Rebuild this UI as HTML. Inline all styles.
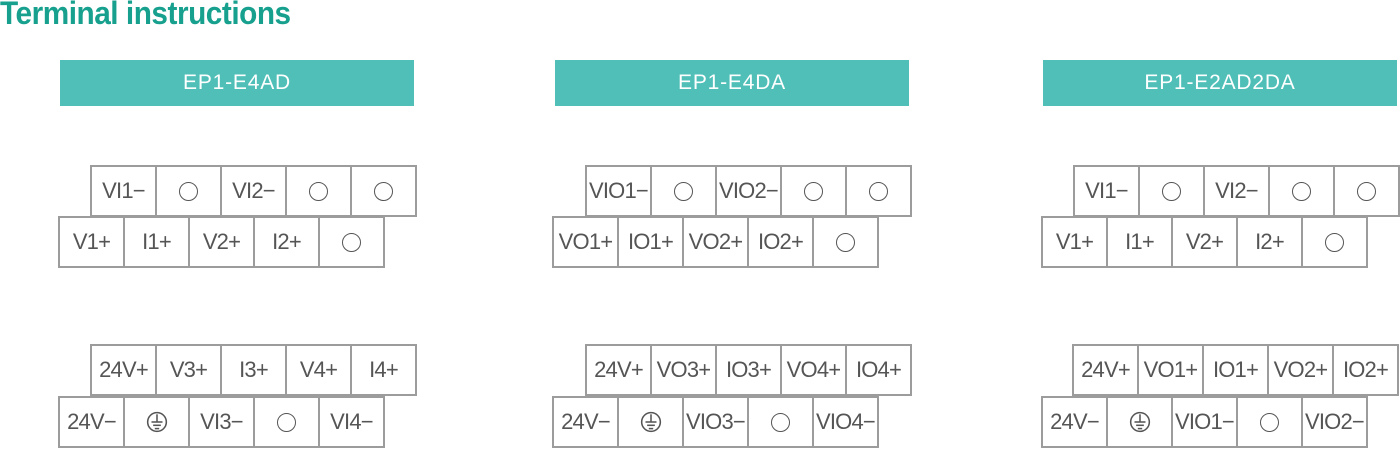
<!DOCTYPE html>
<html><head><meta charset="utf-8"><style>
body{margin:0;width:1400px;height:449px;background:#fff;position:relative;overflow:hidden;font-family:"Liberation Sans",sans-serif}
.title{position:absolute;left:0;top:-5px;font-size:32px;font-weight:bold;color:#16a08d;transform:scaleX(0.93);transform-origin:left top;letter-spacing:-0.5px;white-space:nowrap}
.hd{position:absolute;top:60px;width:354px;height:46px;background:#4fbfb8;color:#fff;font-size:21px;line-height:46px;text-align:center;letter-spacing:0.8px}
.row{position:absolute;display:flex;height:52px}
.c{box-sizing:border-box;width:67px;height:52px;border:2px solid #9c9c9c;margin-left:-2px;display:flex;align-items:center;justify-content:center;font-size:22px;color:#555;letter-spacing:-0.8px;white-space:nowrap;background:#fff}
.o{display:inline-block;width:17px;height:17px;border:1.6px solid #555;border-radius:50%}
</style></head><body>
<div class="title">Terminal instructions</div>

<div class="hd" style="left:60px">EP1-E4AD</div>
<div class="hd" style="left:555px">EP1-E4DA</div>
<div class="hd" style="left:1043px">EP1-E2AD2DA</div>

<!-- Block 1 -->
<div class="row" style="left:92px;top:165px"><div class="c">VI1−</div><div class="c"><span class="o"></span></div><div class="c">VI2−</div><div class="c"><span class="o"></span></div><div class="c"><span class="o"></span></div></div>
<div class="row" style="left:60px;top:216px"><div class="c">V1+</div><div class="c">I1+</div><div class="c">V2+</div><div class="c">I2+</div><div class="c"><span class="o"></span></div></div>
<div class="row" style="left:92px;top:344px"><div class="c">24V+</div><div class="c">V3+</div><div class="c">I3+</div><div class="c">V4+</div><div class="c">I4+</div></div>
<div class="row" style="left:60px;top:396px"><div class="c">24V−</div><div class="c"><svg width="22" height="22" viewBox="0 0 20 20"><circle cx="10" cy="10" r="8.5" fill="none" stroke="#555" stroke-width="1.4"/><line x1="10" y1="3" x2="10" y2="10" stroke="#555" stroke-width="1.4"/><line x1="5" y1="10" x2="15" y2="10" stroke="#555" stroke-width="1.4"/><line x1="6.5" y1="13" x2="13.5" y2="13" stroke="#555" stroke-width="1.4"/><line x1="8" y1="16" x2="12" y2="16" stroke="#555" stroke-width="1.4"/></svg></div><div class="c">VI3−</div><div class="c"><span class="o"></span></div><div class="c">VI4−</div></div>

<!-- Block 2 -->
<div class="row" style="left:587px;top:165px"><div class="c">VIO1−</div><div class="c"><span class="o"></span></div><div class="c">VIO2−</div><div class="c"><span class="o"></span></div><div class="c"><span class="o"></span></div></div>
<div class="row" style="left:554px;top:216px"><div class="c">VO1+</div><div class="c">IO1+</div><div class="c">VO2+</div><div class="c">IO2+</div><div class="c"><span class="o"></span></div></div>
<div class="row" style="left:587px;top:344px"><div class="c">24V+</div><div class="c">VO3+</div><div class="c">IO3+</div><div class="c">VO4+</div><div class="c">IO4+</div></div>
<div class="row" style="left:554px;top:396px"><div class="c">24V−</div><div class="c"><svg width="22" height="22" viewBox="0 0 20 20"><circle cx="10" cy="10" r="8.5" fill="none" stroke="#555" stroke-width="1.4"/><line x1="10" y1="3" x2="10" y2="10" stroke="#555" stroke-width="1.4"/><line x1="5" y1="10" x2="15" y2="10" stroke="#555" stroke-width="1.4"/><line x1="6.5" y1="13" x2="13.5" y2="13" stroke="#555" stroke-width="1.4"/><line x1="8" y1="16" x2="12" y2="16" stroke="#555" stroke-width="1.4"/></svg></div><div class="c">VIO3−</div><div class="c"><span class="o"></span></div><div class="c">VIO4−</div></div>

<!-- Block 3 -->
<div class="row" style="left:1075px;top:165px"><div class="c">VI1−</div><div class="c"><span class="o"></span></div><div class="c">VI2−</div><div class="c"><span class="o"></span></div><div class="c"><span class="o"></span></div></div>
<div class="row" style="left:1043px;top:216px"><div class="c">V1+</div><div class="c">I1+</div><div class="c">V2+</div><div class="c">I2+</div><div class="c"><span class="o"></span></div></div>
<div class="row" style="left:1074px;top:344px"><div class="c">24V+</div><div class="c">VO1+</div><div class="c">IO1+</div><div class="c">VO2+</div><div class="c">IO2+</div></div>
<div class="row" style="left:1043px;top:396px"><div class="c">24V−</div><div class="c"><svg width="22" height="22" viewBox="0 0 20 20"><circle cx="10" cy="10" r="8.5" fill="none" stroke="#555" stroke-width="1.4"/><line x1="10" y1="3" x2="10" y2="10" stroke="#555" stroke-width="1.4"/><line x1="5" y1="10" x2="15" y2="10" stroke="#555" stroke-width="1.4"/><line x1="6.5" y1="13" x2="13.5" y2="13" stroke="#555" stroke-width="1.4"/><line x1="8" y1="16" x2="12" y2="16" stroke="#555" stroke-width="1.4"/></svg></div><div class="c">VIO1−</div><div class="c"><span class="o"></span></div><div class="c">VIO2−</div></div>
</body></html>
